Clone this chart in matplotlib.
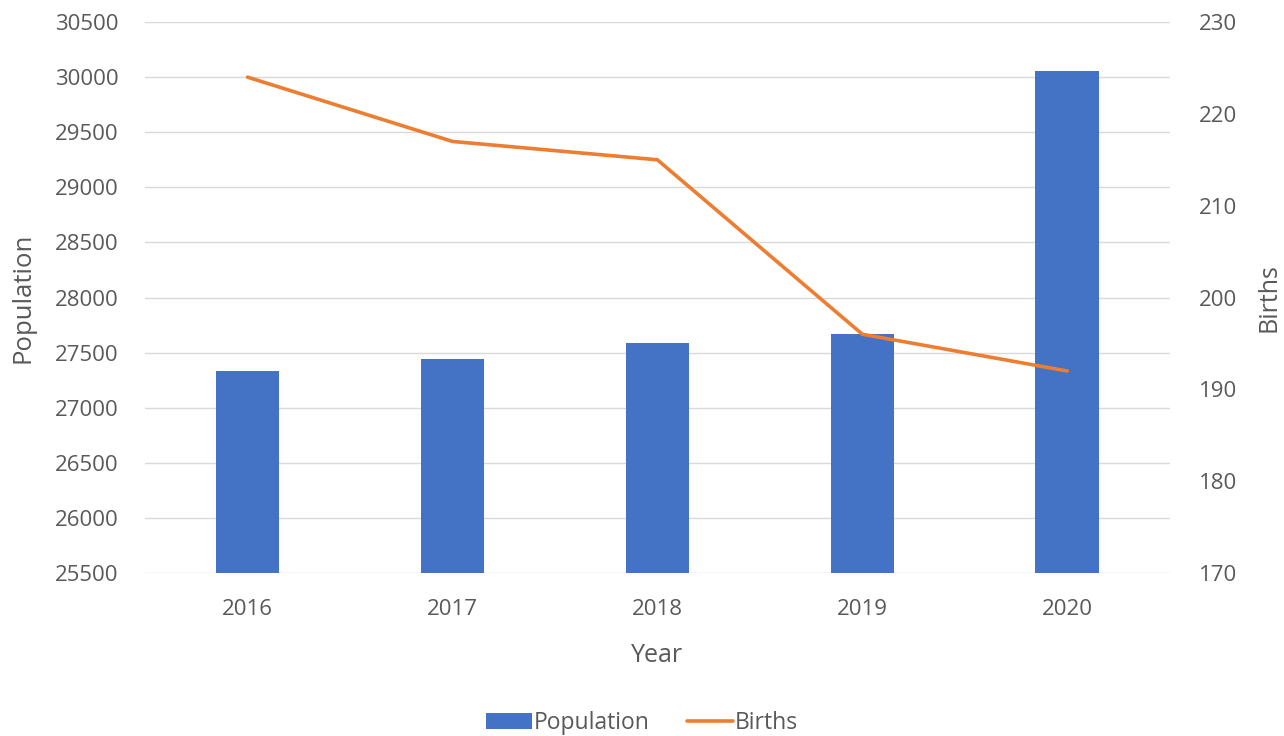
import matplotlib
matplotlib.use("Agg")
import matplotlib.pyplot as plt
import numpy as np

years = ["2016", "2017", "2018", "2019", "2020"]
population = [27333, 27440, 27585, 27667, 30057]
births = [224, 217, 215, 196, 192]
pop_ticks = list(range(25500, 30501, 500))
birth_ticks = list(range(170, 231, 10))

plt.rcParams['font.family'] = ['Open Sans', 'DejaVu Sans']
txt = '#595959'
fig = plt.figure(figsize=(12.84, 7.36), dpi=100)
ax = fig.add_axes([0.113, 0.2215, 0.798, 0.7485])
x = np.arange(len(years))
bars = ax.bar(x, population, width=0.31, color='#4472C4', zorder=2, label='Population')
ax.set_ylim(25500, 30500)
ax.set_xlim(-0.5, len(years) - 0.5)
ax.set_yticks(pop_ticks)
ax.set_xticks(x)
ax.set_xticklabels(years)
ax.grid(axis='y', color='#d9d9d9', lw=1, zorder=0)
ax.set_axisbelow(True)
for s in ax.spines.values():
    s.set_visible(False)
ax.tick_params(axis='both', length=0, labelsize=16, colors=txt)
ax.tick_params(axis='y', pad=19)
ax.tick_params(axis='x', pad=19)
ax.set_ylabel('Population', fontsize=18.5, color=txt, labelpad=14)
ax.set_xlabel('Year', fontsize=18, color=txt, labelpad=16)

ax2 = ax.twinx()
line, = ax2.plot(x, births, color='#ED7D31', lw=2.6, label='Births', solid_capstyle='round')
ax2.set_ylim(170, 230)
ax2.set_yticks(birth_ticks)
for s in ax2.spines.values():
    s.set_visible(False)
ax2.tick_params(axis='y', length=0, labelsize=16, colors=txt, pad=21)
ax2.set_ylabel('Births', fontsize=18, color=txt, labelpad=14)

fig.legend([bars, line], ['Population', 'Births'], loc='center', bbox_to_anchor=(0.5, 0.017),
           ncol=2, frameon=False, fontsize=16.5, labelcolor=txt, handlelength=2.0,
           handletextpad=0.1, columnspacing=1.6)
fig.savefig('out.png', dpi=100)
